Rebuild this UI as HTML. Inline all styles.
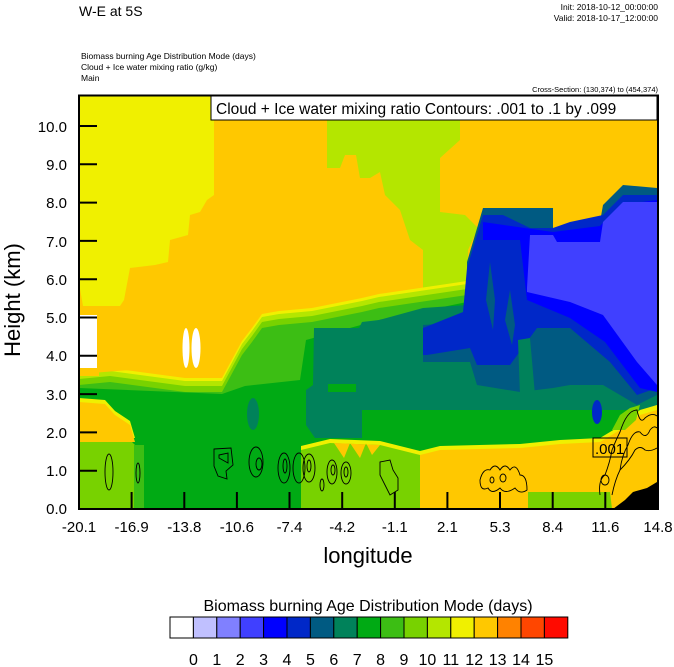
<!DOCTYPE html>
<html><head><meta charset="utf-8"><style>
body{margin:0;background:#fff;width:674px;height:667px;overflow:hidden}
svg{display:block;font-family:"Liberation Sans",sans-serif}
</style></head><body>
<svg width="674" height="667" viewBox="0 0 674 667">
<defs><clipPath id="c"><rect x="79" y="95" width="579" height="414"/></clipPath>
<g id="gtop"><polygon points="79,385 110,382 140,386 185,392 222,392 242,355 252,342 262,328 279,325 312,322 362,312 379,308 467,295 657,295 657,509 79,509"/></g>
</defs>
<text x="79" y="16" font-size="14">W-E at 5S</text>
<text x="658" y="10" font-size="8.5" text-anchor="end">Init: 2018-10-12_00:00:00</text>
<text x="658" y="21" font-size="8.5" text-anchor="end">Valid: 2018-10-17_12:00:00</text>
<text x="81" y="59" font-size="8.5">Biomass burning Age Distribution Mode   (days)</text>
<text x="81" y="70" font-size="8.5">Cloud + Ice water mixing ratio   (g/kg)</text>
<text x="81" y="81" font-size="8.5">Main</text>
<text x="658" y="92" font-size="7.5" text-anchor="end">Cross-Section: (130,374) to (454,374)</text>
<g clip-path="url(#c)">
<rect x="79" y="95" width="579" height="414" fill="#ffc800"/>
<polygon fill="#b4e600" points="327,120 460,120 460,140 440,158 440,212 465,215 478,228 468,250 467,292 423,292 423,250 410,240 400,210 385,195 380,172 370,178 360,178 356,155 345,155 340,168 327,168"/>
<use href="#gtop" fill="#f0f000" transform="translate(0,-14)"/>
<use href="#gtop" fill="#b4e600" transform="translate(0,-11)"/>
<use href="#gtop" fill="#78d200" transform="translate(0,-6)"/>
<use href="#gtop" fill="#3cbe14"/>
<polygon fill="#00aa14" points="79,388 222,394 245,386 300,380 306,340 379,320 467,302 657,302 657,509 79,509"/>
<polygon fill="#ffc800" points="79,95 214,95 214,300 190,330 130,370 79,374"/>
<polygon fill="#f0f000" points="79,95 214,95 214,195 207,200 200,212 190,215 188,235 170,240 168,262 155,265 130,268 124,300 120,306 83,306 79,283"/>
<rect x="79" y="315" width="18" height="53" fill="#fff"/>
<rect x="79" y="368" width="20" height="8" fill="#ffc800"/>
<ellipse cx="186" cy="348" rx="3.5" ry="20" fill="#fff"/>
<ellipse cx="196" cy="348" rx="4.5" ry="20" fill="#fff"/>
<polygon fill="#00825a" points="314,328 359,328 362,322 379,320 423,308 467,305 657,305 657,410 379,410 362,410 362,438 315,438 306,425 306,390 313,385"/>
<rect x="328" y="384" width="28" height="8" fill="#00aa14"/>
<ellipse cx="253" cy="414" rx="6" ry="16" fill="#00825a"/>
<polygon fill="#005a82" points="423,325 467,322 467,262 483,208 553,208 553,228 600,222 603,205 623,185 657,188 657,395 637,405 603,385 570,385 553,388 520,392 477,385 470,362 423,362"/>
<polygon fill="#0028c8" points="423,355 423,328 463,312 467,268 483,215 503,215 530,228 553,228 570,222 603,215 623,195 657,195 657,388 637,395 610,362 570,328 537,328 510,365 477,365 470,348 427,355"/>
<polygon fill="#005a82" points="486,300 490,262 495,300 493,330"/>
<polygon fill="#005a82" points="505,320 510,290 515,325 512,345"/>
<polygon fill="#00825a" points="518,340 530,338 535,395 520,395"/>
<polygon fill="#0000ff" points="483,222 553,232 600,226 620,205 657,200 657,392 640,388 605,342 570,318 527,300 520,240 483,240"/>
<polygon fill="#4040ff" points="527,288 530,235 553,235 557,242 600,242 603,222 623,202 657,202 657,385 637,362 603,315 570,302 527,292"/>
<ellipse cx="597" cy="412" rx="5" ry="12" fill="#0028c8"/>
<polygon fill="#f0f000" points="79,398 105,400 115,411 130,421 135,438 79,438"/>
<polygon fill="#ffc800" points="79,402 105,404 115,415 130,425 135,442 79,442"/>
<polygon fill="#78d200" points="79,442 132,442 140,450 142,509 79,509"/>
<rect x="134" y="445" width="10" height="64" fill="#3cbe14"/>
<polygon fill="#f0f000" points="301,509 301,446 330,439 380,441 420,451 440,446 520,444 560,440 600,438 620,426 640,410 657,405 657,509"/>
<polygon fill="#78d200" points="301,509 301,450 330,443 380,445 420,455 420,509"/>
<polygon fill="#ffc800" points="334,443 344,458 350,443 360,458 366,443 372,455 380,445"/>
<polygon fill="#ffc800" points="420,455 440,450 520,448 560,444 600,442 620,430 640,415 657,410 657,509 610,509 610,492 528,492 528,509 420,509"/>
<polygon fill="#78d200" points="528,492 610,492 612,509 528,509"/>
<polygon fill="#78d200" points="612,430 620,415 630,408 640,405 636,420 625,430"/>
<polygon fill="#000" points="613,509 625,500 633,492 640,490 647,488 652,485 657,482 657,509"/>
<g fill="none" stroke="#000" stroke-width="0.9">
<ellipse cx="109" cy="472" rx="4" ry="18"/>
<ellipse cx="138" cy="473" rx="2" ry="10"/>
<path d="M214,449 L231,448 L233,465 L226,471 L227,479 L218,476 L214,466 Z"/>
<path d="M219,455 L228,453 L228,463 L219,458 Z"/>
<ellipse cx="256" cy="462" rx="7" ry="15"/><ellipse cx="259" cy="464" rx="3" ry="6"/>
<ellipse cx="284" cy="468" rx="6" ry="15"/><ellipse cx="285" cy="466" rx="2" ry="7"/>
<ellipse cx="299" cy="468" rx="6" ry="15"/>
<ellipse cx="309" cy="468" rx="6" ry="14"/><ellipse cx="309" cy="466" rx="2" ry="6"/>
<ellipse cx="322" cy="485" rx="2" ry="6"/>
<ellipse cx="332" cy="472" rx="5" ry="12"/><ellipse cx="333" cy="470" rx="2" ry="5"/>
<ellipse cx="346" cy="473" rx="5" ry="11"/><ellipse cx="346" cy="472" rx="2" ry="5"/>
<path d="M380,462 L390,460 L393,470 L398,478 L398,490 L390,495 L385,485 L380,475 Z"/>
<path d="M480,480 Q483,468 490,470 Q495,462 500,470 Q505,462 510,470 Q516,462 520,475 Q527,475 527,490 Q520,495 515,488 Q505,495 500,488 Q492,495 488,488 Q480,492 480,480 Z"/>
<ellipse cx="503" cy="478" rx="3" ry="4"/><ellipse cx="492" cy="480" rx="2" ry="3"/>
<path d="M600,495 Q598,480 605,475 Q610,462 612,450 Q616,440 620,432 Q627,410 637,410 Q640,425 645,418 Q652,412 657,416"/>
<path d="M612,495 Q615,480 620,470 Q622,455 628,445 Q633,430 640,432 Q646,440 650,430 Q654,425 657,428"/>
<path d="M620,470 Q630,460 635,450 Q640,445 645,450 Q650,452 657,448"/>
<ellipse cx="605" cy="480" rx="4" ry="5"/>
</g>
<rect x="593" y="438" width="34" height="19" fill="none" stroke="#000" stroke-width="1"/>
<text x="595" y="454" font-size="15">.001</text>
<rect x="211" y="95" width="446" height="25" fill="#fff" stroke="#000" stroke-width="1"/>
<text x="216" y="114" font-size="15.5">Cloud + Ice water mixing ratio Contours: .001 to .1 by .099</text>
</g>
<rect x="79" y="95.5" width="579" height="413.5" fill="none" stroke="#000" stroke-width="2"/>
<g stroke="#000" stroke-width="2">
<line x1="79" y1="126" x2="97" y2="126"/><line x1="79" y1="164.3" x2="97" y2="164.3"/><line x1="79" y1="202.6" x2="97" y2="202.6"/><line x1="79" y1="240.9" x2="97" y2="240.9"/><line x1="79" y1="279.2" x2="97" y2="279.2"/><line x1="79" y1="317.5" x2="97" y2="317.5"/><line x1="79" y1="355.8" x2="97" y2="355.8"/><line x1="79" y1="394.1" x2="97" y2="394.1"/><line x1="79" y1="432.4" x2="97" y2="432.4"/><line x1="79" y1="470.7" x2="97" y2="470.7"/>
<line x1="131.6" y1="509" x2="131.6" y2="492"/><line x1="184.3" y1="509" x2="184.3" y2="492"/><line x1="236.9" y1="509" x2="236.9" y2="492"/><line x1="289.5" y1="509" x2="289.5" y2="492"/><line x1="342.2" y1="509" x2="342.2" y2="492"/><line x1="394.8" y1="509" x2="394.8" y2="492"/><line x1="447.4" y1="509" x2="447.4" y2="492"/><line x1="500" y1="509" x2="500" y2="492"/><line x1="552.7" y1="509" x2="552.7" y2="492"/><line x1="605.3" y1="509" x2="605.3" y2="492"/>
</g>
<g font-size="15" text-anchor="end">
<text x="67" y="132">10.0</text><text x="67" y="170">9.0</text><text x="67" y="208">8.0</text><text x="67" y="247">7.0</text><text x="67" y="285">6.0</text><text x="67" y="323">5.0</text><text x="67" y="361">4.0</text><text x="67" y="400">3.0</text><text x="67" y="438">2.0</text><text x="67" y="476">1.0</text><text x="67" y="514">0.0</text>
</g>
<g font-size="15" text-anchor="middle">
<text x="79" y="532">-20.1</text><text x="131.6" y="532">-16.9</text><text x="184.3" y="532">-13.8</text><text x="236.9" y="532">-10.6</text><text x="289.5" y="532">-7.4</text><text x="342.2" y="532">-4.2</text><text x="394.8" y="532">-1.1</text><text x="447.4" y="532">2.1</text><text x="500" y="532">5.3</text><text x="552.7" y="532">8.4</text><text x="605.3" y="532">11.6</text><text x="658" y="532">14.8</text>
</g>
<text x="368" y="563" font-size="22" text-anchor="middle">longitude</text>
<text transform="translate(20,300) rotate(-90)" font-size="22" text-anchor="middle">Height (km)</text>
<text x="368" y="611" font-size="16" text-anchor="middle">Biomass burning Age Distribution Mode  (days)</text>
<g stroke="#000" stroke-width="1">
<rect x="170" y="617" width="23.4" height="21" fill="#fff"/>
<rect x="193.4" y="617" width="23.4" height="21" fill="#c0c0ff"/>
<rect x="216.8" y="617" width="23.4" height="21" fill="#8080ff"/>
<rect x="240.2" y="617" width="23.4" height="21" fill="#4040ff"/>
<rect x="263.6" y="617" width="23.4" height="21" fill="#0000ff"/>
<rect x="287" y="617" width="23.4" height="21" fill="#0028c8"/>
<rect x="310.4" y="617" width="23.4" height="21" fill="#005a82"/>
<rect x="333.8" y="617" width="23.4" height="21" fill="#00825a"/>
<rect x="357.2" y="617" width="23.4" height="21" fill="#00aa14"/>
<rect x="380.6" y="617" width="23.4" height="21" fill="#3cbe14"/>
<rect x="404" y="617" width="23.4" height="21" fill="#78d200"/>
<rect x="427.4" y="617" width="23.4" height="21" fill="#b4e600"/>
<rect x="450.8" y="617" width="23.4" height="21" fill="#f0f000"/>
<rect x="474.2" y="617" width="23.4" height="21" fill="#ffc800"/>
<rect x="497.6" y="617" width="23.4" height="21" fill="#ff8200"/>
<rect x="521" y="617" width="23.4" height="21" fill="#ff4600"/>
<rect x="544.4" y="617" width="23.4" height="21" fill="#ff0a00"/>
</g>
<g font-size="16" text-anchor="middle">
<text x="193.4" y="665">0</text><text x="216.8" y="665">1</text><text x="240.2" y="665">2</text><text x="263.6" y="665">3</text><text x="287" y="665">4</text><text x="310.4" y="665">5</text><text x="333.8" y="665">6</text><text x="357.2" y="665">7</text><text x="380.6" y="665">8</text><text x="404" y="665">9</text><text x="427.4" y="665">10</text><text x="450.8" y="665">11</text><text x="474.2" y="665">12</text><text x="497.6" y="665">13</text><text x="521" y="665">14</text><text x="544.4" y="665">15</text>
</g>
</svg>
</body></html>
